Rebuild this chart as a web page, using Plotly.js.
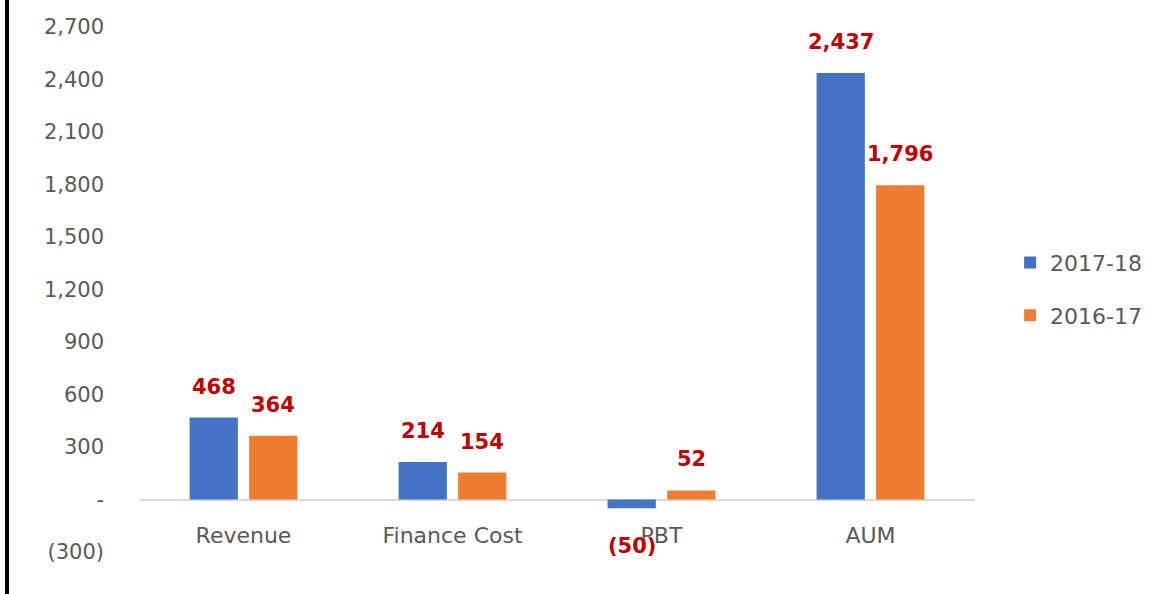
<!DOCTYPE html>
<html>
<head>
<meta charset="utf-8">
<script src="https://cdn.plot.ly/plotly-3.0.1.min.js"></script>
<style>html,body{margin:0;padding:0;background:#fff;}#chart{width:1166px;height:594px;}</style>
</head>
<body>
<div id="chart"></div>
<script>
const categories = ["Revenue", "Finance Cost", "PBT", "AUM"];
const series1Name = "2017-18";
const series1Values = [468, 214, -50, 2437];
const series2Name = "2016-17";
const series2Values = [364, 154, 52, 1796];
const tickValues = [-300, 0, 300, 600, 900, 1200, 1500, 1800, 2100, 2400, 2700];
const tickLabels = ["(300)", "-", "300", "600", "900", "1,200", "1,500", "1,800", "2,100", "2,400", "2,700"];

function fmt(v) {
  const s = Math.abs(v).toLocaleString("en-US");
  return v < 0 ? "(" + s + ")" : s;
}

const blue = "#4472C4", orange = "#ED7D31", red = "#C00000", grey = "#595959";

const traces = [
  {type: "bar", name: series1Name, x: categories, y: series1Values, marker: {color: blue}, legendgroup: "a", hoverinfo: "skip"},
  {type: "bar", name: series2Name, x: categories, y: series2Values, marker: {color: orange}, legendgroup: "b", hoverinfo: "skip"}
];

const annotations = [];
[[series1Values, -29.8], [series2Values, 29.8]].forEach(([vals, dx]) => {
  vals.forEach((v, i) => {
    annotations.push({
      x: categories[i], y: v, xref: "x", yref: "y",
      text: fmt(v), showarrow: false,
      xshift: dx, yshift: v < 0 ? -38 : 31,
      font: {family: "DejaVu Sans", size: 21, color: red, weight: "bold"}
    });
  });
});

const layout = {
  width: 1166, height: 594,
  margin: {l: 139, r: 191, t: 27, b: 42},
  paper_bgcolor: "#fff", plot_bgcolor: "#fff",
  barmode: "group", bargap: 0.43, bargroupgap: 0.19,
  showlegend: true,
  legend: {x: 1.042, xanchor: "left", y: 0.591, yanchor: "top",
    font: {family: "DejaVu Sans", size: 22, color: grey},
    traceorder: "grouped", tracegroupgap: 21, bgcolor: "rgba(0,0,0,0)"},
  xaxis: {
    type: "category", anchor: "free", position: 0.1,
    showline: false, showgrid: false, zeroline: false, ticks: "",
    ticklabelstandoff: 20,
    tickfont: {family: "DejaVu Sans", size: 22, color: grey}
  },
  yaxis: {
    range: [-300, 2700], tickvals: tickValues, ticktext: tickLabels,
    showgrid: false, showline: false, ticks: "",
    zeroline: true, zerolinecolor: "#D9D9D9", zerolinewidth: 2,
    ticklabelstandoff: 34,
    tickfont: {family: "DejaVu Sans", size: 21, color: grey}
  },
  annotations: annotations,
  shapes: [{type: "line", xref: "paper", yref: "paper", xsizemode: "pixel", xanchor: 0,
    x0: -132, x1: -132, y0: -0.2, y1: 1.2, line: {color: "#000", width: 4}}]
};

Plotly.newPlot("chart", traces, layout, {displayModeBar: false, staticPlot: true});
</script>
</body>
</html>
